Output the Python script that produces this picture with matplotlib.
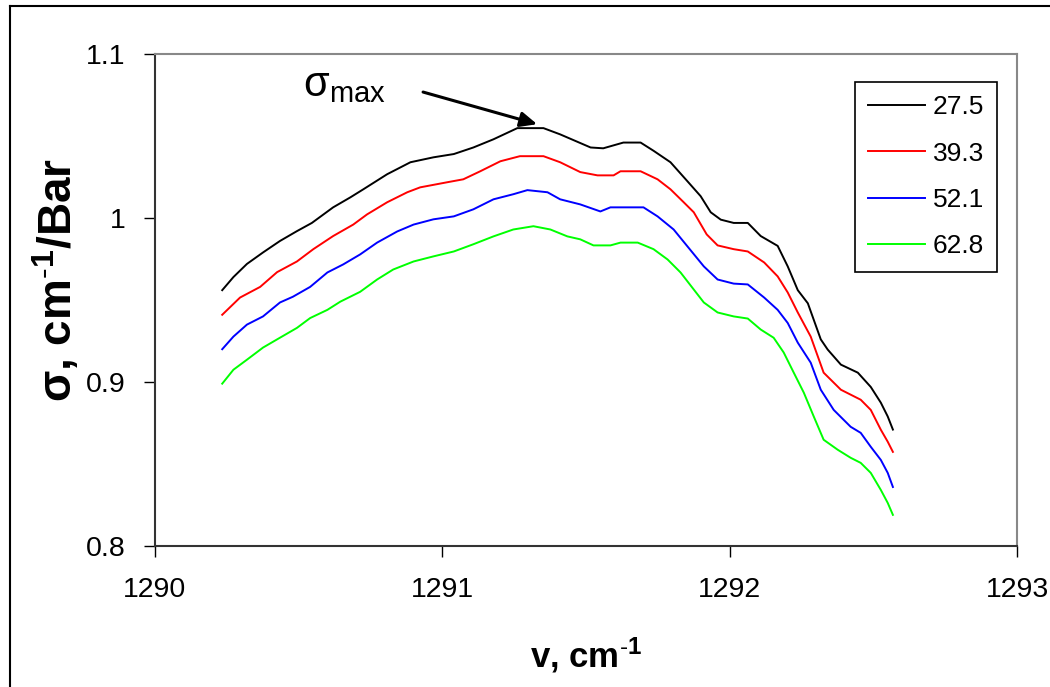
import matplotlib
matplotlib.use("Agg")
import matplotlib.pyplot as plt
from matplotlib.lines import Line2D

plt.rcParams['font.family'] = ['Liberation Sans', 'DejaVu Sans']
plt.rcParams['mathtext.fontset'] = 'custom'
plt.rcParams['mathtext.rm'] = 'Liberation Sans'
plt.rcParams['mathtext.it'] = 'Liberation Sans:italic'
plt.rcParams['mathtext.bf'] = 'Liberation Sans:bold'

# Series (wavenumber, cross-section)
labels = ['27.5', '39.3', '52.1', '62.8']
colors = ['black', '#ff0000', '#0000ff', '#00ff00']

v_275 = [1290.234, 1290.273, 1290.32, 1290.376, 1290.435, 1290.494, 1290.546, 1290.62,
         1290.68, 1290.725, 1290.808, 1290.889, 1290.969, 1291.04, 1291.108, 1291.178,
         1291.261, 1291.352, 1291.41, 1291.516, 1291.56, 1291.63, 1291.69, 1291.735,
         1291.794, 1291.853, 1291.899, 1291.934, 1291.969, 1292.014, 1292.063, 1292.108,
         1292.167, 1292.202, 1292.237, 1292.272, 1292.317, 1292.341, 1292.387, 1292.446,
         1292.491, 1292.526, 1292.55, 1292.568]
s_275 = [0.956, 0.964, 0.972, 0.979, 0.986, 0.992, 0.997, 1.0065,
         1.0126, 1.0175, 1.0267, 1.034, 1.037, 1.039, 1.043, 1.048,
         1.0548, 1.0548, 1.051, 1.043, 1.0425, 1.046, 1.046, 1.041,
         1.034, 1.0224, 1.0133, 1.0035, 0.999, 0.997, 0.997, 0.989,
         0.983, 0.9705, 0.956, 0.948, 0.926, 0.9198, 0.9106, 0.9057,
         0.897, 0.8874, 0.879, 0.871]

v_393 = [1290.234, 1290.296, 1290.366, 1290.425, 1290.494, 1290.551, 1290.62, 1290.69,
         1290.738, 1290.808, 1290.878, 1290.923, 1291.017, 1291.073, 1291.132, 1291.202,
         1291.27, 1291.352, 1291.41, 1291.48, 1291.54, 1291.596, 1291.62, 1291.69,
         1291.749, 1291.794, 1291.84, 1291.875, 1291.92, 1291.958, 1292.014, 1292.063,
         1292.12, 1292.167, 1292.202, 1292.237, 1292.282, 1292.327, 1292.387, 1292.456,
         1292.491, 1292.526, 1292.55, 1292.568]
s_393 = [0.941, 0.9515, 0.958, 0.967, 0.9735, 0.981, 0.989, 0.996,
         1.0022, 1.0096, 1.0157, 1.0187, 1.0218, 1.0236, 1.0285, 1.0346,
         1.0377, 1.0377, 1.034, 1.028, 1.026, 1.026, 1.0285, 1.0285,
         1.0236, 1.0175, 1.0096, 1.0035, 0.990, 0.9833, 0.981, 0.9796,
         0.9729, 0.9644, 0.9546, 0.9424, 0.9277, 0.9057, 0.8953, 0.8892,
         0.883, 0.8709, 0.8636, 0.8574]

v_521 = [1290.234, 1290.273, 1290.32, 1290.376, 1290.435, 1290.48, 1290.54, 1290.6,
         1290.655, 1290.714, 1290.773, 1290.843, 1290.9, 1290.969, 1291.04, 1291.108,
         1291.178, 1291.247, 1291.296, 1291.366, 1291.41, 1291.48, 1291.55, 1291.585,
         1291.7, 1291.749, 1291.805, 1291.853, 1291.91, 1291.958, 1292.014, 1292.063,
         1292.12, 1292.167, 1292.202, 1292.237, 1292.282, 1292.317, 1292.362, 1292.421,
         1292.456, 1292.491, 1292.526, 1292.55, 1292.568]
s_521 = [0.920, 0.9277, 0.935, 0.940, 0.9485, 0.952, 0.958, 0.9668,
         0.9717, 0.9778, 0.985, 0.9918, 0.996, 0.9992, 1.001, 1.0053,
         1.0114, 1.0145, 1.017, 1.0157, 1.0114, 1.0083, 1.004, 1.0065,
         1.0065, 1.001, 0.993, 0.9827, 0.9705, 0.9625, 0.960, 0.9595,
         0.9515, 0.944, 0.936, 0.924, 0.9118, 0.8953, 0.883, 0.8727,
         0.869, 0.8605, 0.8525, 0.8446, 0.836]

v_628 = [1290.234, 1290.273, 1290.32, 1290.376, 1290.425, 1290.494, 1290.54, 1290.6,
         1290.645, 1290.714, 1290.773, 1290.829, 1290.9, 1290.969, 1291.04, 1291.108,
         1291.178, 1291.247, 1291.317, 1291.376, 1291.435, 1291.48, 1291.526, 1291.585,
         1291.62, 1291.68, 1291.735, 1291.784, 1291.829, 1291.875, 1291.91, 1291.958,
         1292.014, 1292.063, 1292.108, 1292.153, 1292.188, 1292.223, 1292.258, 1292.293,
         1292.327, 1292.376, 1292.421, 1292.456, 1292.491, 1292.526, 1292.55, 1292.568]
s_628 = [0.899, 0.9075, 0.9136, 0.921, 0.926, 0.933, 0.939, 0.944,
         0.949, 0.955, 0.9625, 0.9686, 0.9735, 0.9766, 0.9796, 0.984,
         0.9888, 0.993, 0.995, 0.993, 0.9888, 0.987, 0.9833, 0.9833,
         0.985, 0.985, 0.981, 0.9747, 0.9668, 0.9564, 0.9485, 0.9424,
         0.940, 0.9387, 0.932, 0.927, 0.918, 0.9057, 0.8935, 0.8788,
         0.8648, 0.8587, 0.8538, 0.8507, 0.8446, 0.8342, 0.8263, 0.819]

series_v = [v_275, v_393, v_521, v_628]
series_s = [s_275, s_393, s_521, s_628]

x_ticks = [1290, 1291, 1292, 1293]
y_ticks = [0.8, 0.9, 1.0, 1.1]
y_tick_labels = ['0.8', '0.9', '1', '1.1']

fig = plt.figure(figsize=(10.5, 6.87), dpi=100)
ax = fig.add_axes([0.1476, 0.2052, 0.8210, 0.7162])

for v, s, lab, c in zip(series_v, series_s, labels, colors):
    ax.plot(v, s, color=c, lw=1.4, label=lab)

ax.set_xlim(1290, 1293)
ax.set_ylim(0.8, 1.1)
ax.set_xticks(x_ticks)
ax.set_xticklabels([str(t) for t in x_ticks])
ax.set_yticks(y_ticks)
ax.set_yticklabels(y_tick_labels)
ax.tick_params(direction='out', length=8, width=1, labelsize=20.5)
ax.tick_params(axis='x', pad=14)
ax.tick_params(axis='y', pad=13)

for side in ['left', 'bottom']:
    ax.spines[side].set_color('#333333')
    ax.spines[side].set_linewidth(1.5)
for side in ['top', 'right']:
    ax.spines[side].set_color('#888888')
    ax.spines[side].set_linewidth(1.5)

ax.set_xlabel(r'v, cm$^{\mathbf{\text{-}1}}$', fontsize=25, fontweight='bold', labelpad=24)
ax.set_ylabel(r'σ, cm$^{\mathbf{\text{-}1}}$/Bar', fontsize=33, fontweight='bold')
ax.yaxis.set_label_coords(-0.085, 0.54)

# sigma_max annotation
ax.text(1290.66, 1.081, r'$\mathrm{σ_{max}}$', fontsize=30, ha='center', va='center')
ax.annotate('', xy=(1291.33, 1.0572), xytext=(1290.933, 1.0768),
            arrowprops=dict(arrowstyle='-|>,head_length=1.0,head_width=0.45',
                            color='black', lw=2.2, shrinkA=0, shrinkB=0))

leg = ax.legend(loc='upper left', bbox_to_anchor=(855 / 1050, 1 - 82 / 687),
                bbox_transform=fig.transFigure, fontsize=19, frameon=True,
                fancybox=False, edgecolor='black', framealpha=1,
                handlelength=2.15, handletextpad=0.3, labelspacing=0.85,
                borderpad=0.5, borderaxespad=0)
leg.get_frame().set_linewidth(1.2)

# outer chart border (left and top edges visible)
fig.add_artist(Line2D([10 / 1050, 10 / 1050], [0, 1 - 6 / 687], transform=fig.transFigure,
                      color='black', lw=1.5))
fig.add_artist(Line2D([10 / 1050, 1], [1 - 6 / 687, 1 - 6 / 687], transform=fig.transFigure,
                      color='black', lw=1.5))

fig.savefig('out.png', dpi=100)
